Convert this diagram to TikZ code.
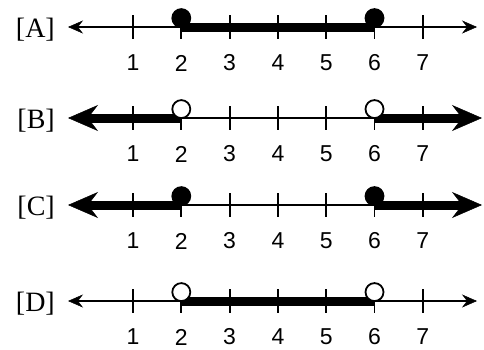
\documentclass[tikz,border=0pt]{standalone}
\usepackage{fontspec}
\setmainfont{Liberation Serif}
\setsansfont{Liberation Sans}
\usetikzlibrary{arrows.meta, positioning}

\begin{document}
\begin{tikzpicture}[x=1pt, y=-1pt,
  axis line/.style={line width=1.8pt},
  thin tips/.style={arrows={Stealth[length=15pt,width=13pt,inset=5pt,line width=0.5pt]-Stealth[length=15pt,width=13pt,inset=5pt,line width=0.5pt]}},
  bar/.style={line width=9pt},
  ray/.style={bar, arrows={-Stealth[length=30pt,width=26pt,inset=10pt,line width=0.5pt]}},
  tick/.style={line width=1.8pt},
  closed dot/.style={circle, draw, fill=black, line width=1.8pt, minimum size=18pt, inner sep=0pt, anchor=south, yshift=-1pt},
  open dot/.style={closed dot, fill=white},
  num/.style={font=\sffamily\fontsize{23}{23}\selectfont, inner sep=0pt},
  choice/.style={font=\fontsize{28}{28}\selectfont, inner sep=0pt}]
\useasboundingbox (0,0) rectangle (484,349);
% four number lines with ticks and numbers
\foreach \r/\y/\e in {A/27/477, B/118/482, C/205/482, D/301/477}{
  \coordinate (\r0) at (68,\y);
  \coordinate (\r8) at (\e,\y);
  \foreach \k in {1,...,7}{
    \coordinate (\r\k) at (133+48.3*\k-48.3,\y);
    \draw[tick] ([yshift=12pt]\r\k) -- ([yshift=-12pt]\r\k);
    \node[num] (n\r\k) at (133+48.3*\k-48.3,\y+36) {\k};}
  \node[choice, yshift=-3pt] (lab\r) [left=13pt of \r0] {[\r]};
}
% [A]
\draw[axis line, thin tips] (A0) -- (A8);
\draw[bar] (A2) -- (A6);
\node[closed dot] (dA2) at (A2) {};
\node[closed dot] (dA6) at (A6) {};
% [B]
\draw[axis line] (B2) -- (B6);
\draw[ray] (B2) -- (B0);
\draw[ray] (B6) -- (B8);
\node[open dot] (dB2) at (B2) {};
\node[open dot] (dB6) at (B6) {};
% [C]
\draw[axis line] (C2) -- (C6);
\draw[ray] (C2) -- (C0);
\draw[ray] (C6) -- (C8);
\node[closed dot] (dC2) at (C2) {};
\node[closed dot] (dC6) at (C6) {};
% [D]
\draw[axis line, thin tips] (D0) -- (D8);
\draw[bar] (D2) -- (D6);
\node[open dot] (dD2) at (D2) {};
\node[open dot] (dD6) at (D6) {};
\end{tikzpicture}
\end{document}
